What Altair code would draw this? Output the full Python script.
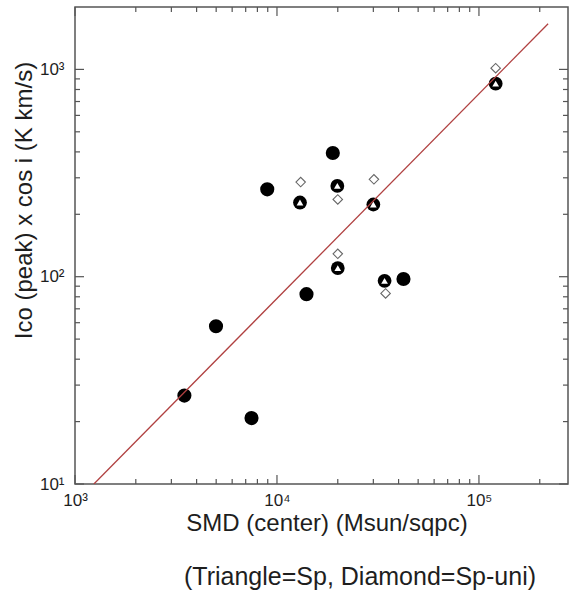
import altair as alt
import pandas as pd

# ---- data ----
filled_x = [18900, 8950, 14000, 4990, 3480, 7480, 42300]
filled_y = [395, 264, 82.4, 57.7, 26.7, 20.8, 97.5]

tri_x = [121000, 13000, 19900, 30000, 20000, 34100]
tri_y = [853, 228, 274, 223, 110, 95.5]

diam_x = [121000, 13100, 20000, 30200, 20000, 34500]
diam_y = [1014, 286, 236, 295, 129, 83]

line_x = [1240, 220000]
line_y = [10, 1660]

major_x = [1000, 10000, 100000]
minor_x = [2000, 3000, 4000, 5000, 6000, 7000, 8000, 9000,
           20000, 30000, 40000, 50000, 60000, 70000, 80000, 90000, 200000]
major_y = [10, 100, 1000]
minor_y = [20, 30, 40, 50, 60, 70, 80, 90, 200, 300, 400, 500, 600, 700, 800, 900]

x_title = "SMD (center) (Msun/sqpc)"
y_title = "Ico (peak) x cos i (K km/s)"
note = "(Triangle=Sp, Diamond=Sp-uni)"

# ---- layout ----
W, H = 493, 477
FONT = "Liberation Sans"
AX = "#555555"
TXT = "#1e1e1e"

xs = alt.Scale(type="log", domain=[1000, 276000], nice=False)
ys = alt.Scale(type="log", domain=[10, 2000], nice=False)

filled = pd.DataFrame({"x": filled_x, "y": filled_y})
tri = pd.DataFrame({"x": tri_x, "y": tri_y})
diam = pd.DataFrame({"x": diam_x, "y": diam_y})
line = pd.DataFrame({"x": line_x, "y": line_y})

xlab = ("datum.value == 1000 ? '10³' : datum.value == 10000 ? '10⁴' : "
        "datum.value == 100000 ? '10⁵' : ''")
ylab = ("datum.value == 10 ? '10¹' : datum.value == 100 ? '10²' : "
        "datum.value == 1000 ? '10³' : ''")

xaxis = alt.Axis(
    values=major_x, labelExpr=xlab, ticks=False, domain=False, grid=False,
    labelFont=FONT, labelFontSize=17, labelColor=TXT, labelPadding=8,
    title=x_title, titleFont=FONT, titleFontSize=24, titleFontWeight="normal",
    titleColor=TXT, titleBaseline="middle", titleY=39, titleX=W / 2 + 5,
    labelFlush=False)
yaxis = alt.Axis(
    values=major_y, labelExpr=ylab, ticks=False, domain=False, grid=False,
    labelFont=FONT, labelFontSize=17, labelColor=TXT, labelPadding=11,
    title=y_title, titleFont=FONT, titleFontSize=24, titleFontWeight="normal",
    titleColor=TXT, titleBaseline="middle", titleX=-51, titleY=193,
    titleAngle=-90, labelFlush=False)

X = lambda: alt.X("x:Q", scale=xs, axis=xaxis)
Y = lambda: alt.Y("y:Q", scale=ys, axis=yaxis)

def pts(df, **kw):
    return alt.Chart(df).mark_point(opacity=1, **kw).encode(x=X(), y=Y())

filled_pts = pts(filled, shape="circle", filled=True, color="black", size=200)
tri_circ = pts(tri, shape="circle", filled=True, color="black", size=190)
tri_in = pts(tri, shape="triangle-up", filled=True, color="white", size=45)
diam_pts = pts(diam, shape="diamond", filled=True, fill="white",
               stroke="#666666", strokeWidth=1.1, size=90)

fit = alt.Chart(line).mark_line(color="#b04040", strokeWidth=1.3, clip=True).encode(
    x=X(), y=Y())

def xticks(vals, length):
    d = pd.DataFrame({"x": vals})
    bot = alt.Chart(d).mark_rule(color=AX, strokeWidth=1.2).encode(
        x=X(), y=alt.value(H), y2=alt.value(H - length))
    top = alt.Chart(d).mark_rule(color=AX, strokeWidth=1.2).encode(
        x=X(), y=alt.value(0), y2=alt.value(length))
    return [bot, top]

def yticks(vals, length):
    d = pd.DataFrame({"y": vals})
    lef = alt.Chart(d).mark_rule(color=AX, strokeWidth=1.2).encode(
        y=Y(), x=alt.value(0), x2=alt.value(length))
    rig = alt.Chart(d).mark_rule(color=AX, strokeWidth=1.2).encode(
        y=Y(), x=alt.value(W), x2=alt.value(W - length))
    return [lef, rig]

ticks = xticks(major_x, 9) + xticks(minor_x, 5) + yticks(major_y, 9) + yticks(minor_y, 5)

note_layer = alt.Chart(pd.DataFrame({"t": [note]})).mark_text(
    font=FONT, fontSize=25, color=TXT, align="center", baseline="middle"
).encode(text="t:N", x=alt.value(285), y=alt.value(570))

chart = alt.layer(
    filled_pts, tri_circ, tri_in, diam_pts, fit, *ticks, note_layer
).properties(
    width=W, height=H,
    autosize=alt.AutoSizeParams(type="none"),
    padding={"left": 75, "top": 7, "right": 1, "bottom": 106},
    background="white",
).configure_view(stroke=AX, strokeWidth=1.5)

chart.save("out.html", embed_options={"renderer": "svg", "actions": False})
